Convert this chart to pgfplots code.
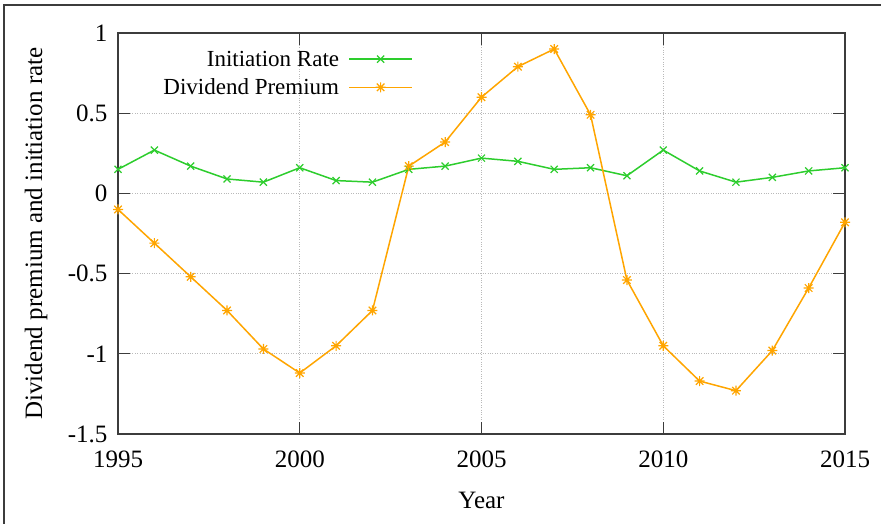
\documentclass[border=0pt]{standalone}
\usepackage{fontspec}
\setmainfont{Liberation Serif}
\usepackage{pgfplots}
\pgfplotsset{compat=1.18}
\definecolor{gpgreen}{RGB}{45,205,45}
\definecolor{gporange}{RGB}{255,165,0}
\definecolor{axisgray}{RGB}{60,60,60}
\pgfdeclareplotmark{gpstar}{%
  \pgfpathmoveto{\pgfqpoint{-\pgfplotmarksize}{0pt}}\pgfpathlineto{\pgfqpoint{\pgfplotmarksize}{0pt}}%
  \pgfpathmoveto{\pgfqpoint{0pt}{-\pgfplotmarksize}}\pgfpathlineto{\pgfqpoint{0pt}{\pgfplotmarksize}}%
  \pgfpathmoveto{\pgfqpoint{-0.75\pgfplotmarksize}{-0.75\pgfplotmarksize}}\pgfpathlineto{\pgfqpoint{0.75\pgfplotmarksize}{0.75\pgfplotmarksize}}%
  \pgfpathmoveto{\pgfqpoint{-0.75\pgfplotmarksize}{0.75\pgfplotmarksize}}\pgfpathlineto{\pgfqpoint{0.75\pgfplotmarksize}{-0.75\pgfplotmarksize}}%
  \pgfusepathqstroke}
\begin{document}
\begin{tikzpicture}
\useasboundingbox (0,0) rectangle (881pt,524pt);
\draw[axisgray, line width=1.5pt] (4pt,0pt) -- (4pt,519pt) -- (881pt,519pt);
\begin{axis}[
  at={(118pt,90pt)}, anchor=south west,
  width=727pt, height=401pt, scale only axis,
  xmin=1995, xmax=2015, ymin=-1.5, ymax=1,
  xtick={1995,2000,2005,2010,2015}, xticklabels={1995,2000,2005,2010,2015},
  ytick={-1.5,-1,-0.5,0,0.5,1}, yticklabels={-1.5,-1,-0.5,0,0.5,1},
  tick align=inside, major tick length=12pt,
  tick style={axisgray, line width=1.3pt},
  axis line style={axisgray, line width=1.4pt},
  grid=major, major grid style={gray!55, dotted, line width=0.9pt},
  tick label style={font=\fontsize{25}{30}\selectfont, text=black},
  label style={font=\fontsize{25}{30}\selectfont},
  xticklabel shift=13pt, yticklabel shift=7pt,
  xlabel={Year}, ylabel={Dividend premium and initiation rate},
  xlabel style={at={(axis description cs:0.5,-0.1646)}, anchor=center},
  ylabel style={at={(axis description cs:-0.1128,0.5)}, anchor=center},
  clip=false,
  legend style={draw=none, fill=none, font=\fontsize{23}{28}\selectfont,
    at={(axis description cs:0.41,0.966)}, anchor=north east, row sep=7pt},
  legend cell align=right, legend plot pos=right,
  legend image code/.code={\path[draw=none,fill=none,mark=none] (0pt,0pt) -- (2pt,0pt); \draw[mark repeat=2,mark phase=2,#1] plot coordinates {(8pt,0pt)(39.5pt,0pt)(71pt,0pt)};},
]
\addplot[gpgreen, line width=1.5pt, mark=x, mark size=5pt, mark options={line width=1.2pt}] coordinates {
(1995,0.15)(1996,0.27)(1997,0.17)(1998,0.09)(1999,0.07)(2000,0.16)(2001,0.08)(2002,0.07)
(2003,0.15)(2004,0.17)(2005,0.22)(2006,0.20)(2007,0.15)(2008,0.16)(2009,0.11)(2010,0.27)
(2011,0.14)(2012,0.07)(2013,0.10)(2014,0.14)(2015,0.16)};
\addlegendentry{Initiation Rate}
\addplot[gporange, line width=1.5pt, mark=gpstar, mark size=5pt, mark options={line width=1.2pt}] coordinates {
(1995,-0.10)(1996,-0.31)(1997,-0.52)(1998,-0.73)(1999,-0.97)(2000,-1.12)(2001,-0.95)(2002,-0.73)
(2003,0.17)(2004,0.32)(2005,0.60)(2006,0.79)(2007,0.90)(2008,0.49)(2009,-0.54)(2010,-0.95)
(2011,-1.17)(2012,-1.23)(2013,-0.98)(2014,-0.59)(2015,-0.18)};
\addlegendentry{Dividend Premium}
\end{axis}
\end{tikzpicture}
\end{document}
